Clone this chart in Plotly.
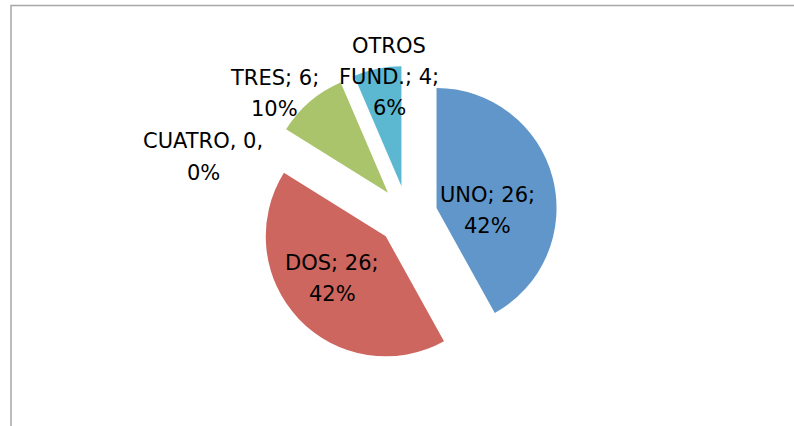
import plotly.graph_objects as go

# ---- data ----
labels = ["UNO", "DOS", "TRES", "CUATRO", "OTROS FUND."]
values = [26, 26, 6, 0, 4]
colors = ["#6096CA", "#CD665F", "#AAC46C", "#8A6BAE", "#5CB8D1"]

total = sum(values)
pcts = [round(v / total * 100) for v in values]

FONT = "DejaVu Sans"
FSIZE = 21
LINE_GAP = 31  # px between label lines

fig = go.Figure()
fig.add_trace(go.Pie(
    labels=labels,
    values=values,
    sort=False,
    direction="clockwise",
    rotation=0,
    pull=[0.25] * len(values),
    marker=dict(colors=colors, line=dict(width=0)),
    textinfo="none",
    domain=dict(x=[257.5 / 794, 557.5 / 794], y=[60.4 / 426, 360.4 / 426]),
    showlegend=False,
    hoverinfo="label+value+percent",
))

# data labels (Excel "best fit" style placement), text built from the data
label_pos = {"UNO": (487, 210), "DOS": (332, 278), "TRES": (274, 93),
             "CUATRO": (203, 157), "OTROS FUND.": (389, 77)}
for i, name in enumerate(labels):
    px, py = label_pos[name]
    if values[i] == 0:
        lines = [f"{name}, {values[i]},", f"{pcts[i]}%"]
    elif " " in name:
        first, rest = name.split(" ", 1)
        lines = [first, f"{rest}; {values[i]};", f"{pcts[i]}%"]
    else:
        lines = [f"{name}; {values[i]};", f"{pcts[i]}%"]
    n = len(lines)
    for k, line in enumerate(lines):
        ly = py + (k - (n - 1) / 2) * LINE_GAP
        fig.add_annotation(
            x=px / 794, y=1 - ly / 426, xref="paper", yref="paper",
            text=line, showarrow=False, xanchor="center", yanchor="middle",
            align="center", font=dict(family=FONT, size=FSIZE, color="black"),
        )

# chart frame (partially visible border)
fig.add_shape(type="rect", xref="paper", yref="paper",
              x0=11 / 794, x1=1.05, y0=-0.05, y1=1 - 5.5 / 426,
              line=dict(color="#A6A6A6", width=1.5), fillcolor="rgba(0,0,0,0)")

fig.update_layout(
    width=794, height=426,
    margin=dict(l=0, r=0, t=0, b=0),
    paper_bgcolor="white", plot_bgcolor="white",
    font=dict(family=FONT, size=FSIZE, color="black"),
)

fig.write_html(
    "out.html",
    config={"displayModeBar": False},
    post_script="document.body.style.margin='0';document.body.style.overflow='hidden';",
)
